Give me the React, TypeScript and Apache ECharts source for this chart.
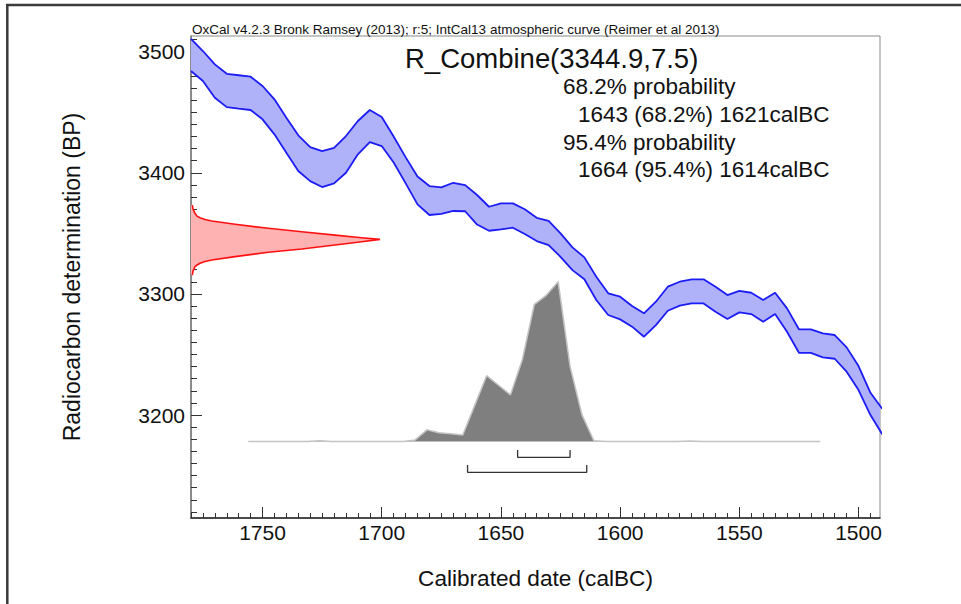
import React, { useEffect, useRef } from "react";
import * as echarts from "echarts";

// Calibration curve (IntCal13), calendar years BC at 5-year steps
const calYears = [
  1780, 1775, 1770, 1765, 1760, 1755, 1750, 1745, 1740, 1735, 1730, 1725, 1720, 1715, 1710,
  1705, 1700, 1695, 1690, 1685, 1680, 1675, 1670, 1665, 1660, 1655, 1650, 1645, 1640, 1635,
  1630, 1625, 1620, 1615, 1610, 1605, 1600, 1595, 1590, 1585, 1580, 1575, 1570, 1565, 1560,
  1555, 1550, 1545, 1540, 1535, 1530, 1525, 1520, 1515, 1510, 1505, 1500, 1495, 1490,
];
const curveUpper = [
  3510.7, 3500.6, 3489.6, 3481.8, 3480.6, 3479.4, 3471.7, 3460.7, 3445.5, 3431.0, 3421.3, 3418.0, 3420.7, 3430.4, 3442.8,
  3451.9, 3446.1, 3430.0, 3413.0, 3397.0, 3389.1, 3388.0, 3391.8, 3389.9, 3381.7, 3372.0, 3374.8, 3374.8, 3369.9, 3362.9,
  3360.4, 3350.0, 3338.5, 3330.2, 3314.2, 3300.5, 3297.7, 3290.0, 3284.0, 3293.6, 3306.0, 3310.1, 3312.1, 3312.1, 3306.0,
  3299.1, 3302.6, 3301.0, 3295.0, 3301.0, 3288.1, 3270.8, 3270.8, 3267.5, 3266.1, 3255.9, 3240.5, 3218.4, 3205.0,
];
const curveLower = [
  3484.1, 3475.8, 3462.0, 3454.3, 3453.0, 3451.9, 3444.2, 3431.8, 3416.6, 3401.5, 3393.2, 3388.3, 3391.3, 3400.1, 3415.3,
  3425.4, 3422.1, 3408.5, 3391.5, 3374.0, 3365.2, 3366.1, 3368.5, 3368.3, 3357.3, 3352.2, 3353.3, 3354.7, 3349.5, 3343.7,
  3340.4, 3330.7, 3319.7, 3312.1, 3295.0, 3282.6, 3279.0, 3273.0, 3264.7, 3274.3, 3286.1, 3290.3, 3292.2, 3292.2, 3285.3,
  3279.3, 3284.8, 3283.4, 3277.0, 3283.4, 3268.8, 3251.4, 3251.4, 3247.6, 3246.5, 3235.8, 3220.6, 3200.0, 3184.0,
];

// Radiocarbon measurement R_Combine(3344.9,7.5): BP vs relative density
const radioBP = [
  3373.4, 3370.0, 3366.6, 3364.2, 3362.9, 3361.4, 3360.2, 3357.5, 3354.2, 3351.4, 3348.6, 3346.4, 3345.1,
  3343.1, 3340.4, 3337.1, 3334.4, 3330.8, 3328.0, 3326.8, 3325.3, 3323.9, 3322.5, 3319.0, 3315.6,
];
const radioDensity = [
  0.007, 0.011, 0.021, 0.032, 0.048, 0.074, 0.11, 0.233, 0.409, 0.586, 0.762, 0.903, 1.0,
  0.903, 0.762, 0.586, 0.409, 0.233, 0.11, 0.074, 0.048, 0.032, 0.021, 0.011, 0.007,
];

// Calibrated (posterior) distribution, calendar years BC vs relative probability
const posteriorYears = [
  1756, 1731, 1726, 1721, 1691, 1686, 1681, 1676, 1671, 1666, 1661, 1656, 1651, 1646,
  1641, 1636, 1631, 1626, 1621, 1616, 1611, 1606, 1576, 1571, 1566, 1516,
];
const posteriorProb = [
  0, 0, 0.004, 0, 0, 0.01, 0.073, 0.055, 0.048, 0.041, 0.226, 0.412, 0.352, 0.292,
  0.513, 0.858, 0.915, 1.0, 0.47, 0.167, 0.005, 0, 0, 0.003, 0, 0,
];

// Highest probability ranges (calBC)
const range68 = [1643, 1621];
const range95 = [1664, 1614];

// Tick values
const xMajorTicks = [1750, 1700, 1650, 1600, 1550, 1500];
const yMajorTicks = [3200, 3300, 3400, 3500];
const xMinorTicks: number[] = [];
for (let v = 1495; v <= 1780; v += 5) xMinorTicks.push(v);
const yMinorTicks: number[] = [];
for (let v = 3120; v <= 3510; v += 10) yMinorTicks.push(v);

const headerText =
  "OxCal v4.2.3 Bronk Ramsey (2013); r:5; IntCal13 atmospheric curve (Reimer et al 2013)";
const sampleName = "R_Combine";
const sampleDate = "(3344.9,7.5)";
const resultLines = [
  "68.2% probability",
  "1643 (68.2%) 1621calBC",
  "95.4% probability",
  "1664 (95.4%) 1614calBC",
];
const resultIndent = [0, 15, 0, 15];

const FONT = "'Liberation Sans', Arial, Helvetica, sans-serif";

export default function App() {
  const ref = useRef<HTMLDivElement>(null);

  useEffect(() => {
    if (!ref.current) return;
    const chart = echarts.init(ref.current, null, { renderer: "svg" });

    const probMin = -0.4787;
    const probMax = 2.5376;
    const densMax = 3.6455;
    const b68 = [-0.0532, -0.0989];
    const b95 = [-0.147, -0.1927];

    const bandData = calYears.map((yr, i) => [yr, curveUpper[i], curveLower[i]]);
    const radioData = radioBP.map((bp, i) => [radioDensity[i], bp]);

    const option: any = {
      animation: false,
      backgroundColor: "#ffffff",
      grid: {
        left: 191,
        top: 36,
        width: 689,
        height: 482,
        show: true,
        borderColor: "#8a8a8a",
        borderWidth: 1,
        backgroundColor: "#ffffff",
      },
      xAxis: [
        {
          type: "value",
          min: 1491,
          max: 1780,
          inverse: true,
          position: "bottom",
          axisLine: { show: true, onZero: false, lineStyle: { color: "#222", width: 1.5 } },
          axisTick: {
            show: true,
            inside: true,
            length: 11,
            customValues: xMajorTicks,
            lineStyle: { color: "#333", width: 1 },
          },
          axisLabel: {
            customValues: xMajorTicks,
            formatter: (v: number) => String(v),
            fontSize: 21,
            fontFamily: FONT,
            color: "#111",
            margin: 4,
          },
          splitLine: { show: false },
        },
        {
          type: "value",
          min: 1491,
          max: 1780,
          inverse: true,
          position: "bottom",
          axisLine: { show: false, onZero: false },
          axisTick: {
            show: true,
            inside: true,
            length: 5,
            customValues: xMinorTicks,
            lineStyle: { color: "#333", width: 1 },
          },
          axisLabel: { show: false },
          splitLine: { show: false },
        },
        {
          type: "value",
          min: 0,
          max: densMax,
          position: "top",
          show: false,
          splitLine: { show: false },
        },
      ],
      yAxis: [
        {
          type: "value",
          min: 3115,
          max: 3513,
          position: "left",
          axisLine: { show: true, onZero: false, lineStyle: { color: "#777", width: 1.5 } },
          axisTick: {
            show: true,
            inside: true,
            length: 11,
            customValues: yMajorTicks,
            lineStyle: { color: "#333", width: 1 },
          },
          axisLabel: {
            customValues: yMajorTicks,
            formatter: (v: number) => String(v),
            fontSize: 21,
            fontFamily: FONT,
            color: "#111",
            margin: 6,
          },
          splitLine: { show: false },
        },
        {
          type: "value",
          min: 3115,
          max: 3513,
          position: "left",
          axisLine: { show: false, onZero: false },
          axisTick: {
            show: true,
            inside: true,
            length: 6,
            customValues: yMinorTicks,
            lineStyle: { color: "#333", width: 1 },
          },
          axisLabel: { show: false },
          splitLine: { show: false },
        },
        {
          type: "value",
          min: probMin,
          max: probMax,
          position: "right",
          show: false,
          splitLine: { show: false },
        },
      ],
      series: [
        {
          type: "custom",
          name: "band",
          xAxisIndex: 0,
          yAxisIndex: 0,
          clip: true,
          data: bandData,
          encode: { x: 0, y: [1, 2] },
          renderItem: (params: any, api: any) => {
            if (params.dataIndex !== 0) return null;
            const top = calYears.map((yr, i) => api.coord([yr, curveUpper[i]]));
            const bottom = calYears.map((yr, i) => api.coord([yr, curveLower[i]])).reverse();
            return {
              type: "polygon",
              shape: { points: top.concat(bottom) },
              style: { fill: "#afb2f9", stroke: "none" },
            };
          },
          z: 2,
        },
        {
          type: "line",
          name: "upper",
          xAxisIndex: 0,
          yAxisIndex: 0,
          data: calYears.map((yr, i) => [yr, curveUpper[i]]),
          showSymbol: false,
          symbol: "none",
          lineStyle: { color: "#1c1cf5", width: 1.8 },
          z: 3,
        },
        {
          type: "line",
          name: "lower",
          xAxisIndex: 0,
          yAxisIndex: 0,
          data: calYears.map((yr, i) => [yr, curveLower[i]]),
          showSymbol: false,
          symbol: "none",
          lineStyle: { color: "#1c1cf5", width: 1.8 },
          z: 3,
        },
        {
          type: "custom",
          name: "radiocarbon",
          xAxisIndex: 2,
          yAxisIndex: 0,
          data: radioData,
          encode: { x: 0, y: 1 },
          renderItem: (params: any, api: any) => {
            if (params.dataIndex !== 0) return null;
            const pts = radioBP.map((bp, i) => api.coord([radioDensity[i], bp]));
            const start = api.coord([0, radioBP[0]]);
            const end = api.coord([0, radioBP[radioBP.length - 1]]);
            return {
              type: "group",
              children: [
                {
                  type: "polygon",
                  shape: { points: [start].concat(pts, [end]) },
                  style: { fill: "#ffb2b2", stroke: "none" },
                },
                {
                  type: "polyline",
                  shape: { points: pts },
                  style: { fill: "none", stroke: "#ff1010", lineWidth: 1.6 },
                },
              ],
            };
          },
          z: 3,
        },
        {
          type: "line",
          name: "posterior",
          xAxisIndex: 0,
          yAxisIndex: 2,
          data: posteriorYears.map((yr, i) => [yr, posteriorProb[i]]),
          showSymbol: false,
          symbol: "none",
          lineStyle: { color: "#c4c4c4", width: 1.5 },
          areaStyle: { color: "#7f7f7f", opacity: 1 },
          z: 3,
        },
        {
          type: "line",
          name: "range68",
          xAxisIndex: 0,
          yAxisIndex: 2,
          data: [
            [range68[0], b68[0]],
            [range68[0], b68[1]],
            [range68[1], b68[1]],
            [range68[1], b68[0]],
          ],
          showSymbol: false,
          symbol: "none",
          lineStyle: { color: "#333", width: 1.3 },
          z: 3,
        },
        {
          type: "line",
          name: "range95",
          xAxisIndex: 0,
          yAxisIndex: 2,
          data: [
            [range95[0], b95[0]],
            [range95[0], b95[1]],
            [range95[1], b95[1]],
            [range95[1], b95[0]],
          ],
          showSymbol: false,
          symbol: "none",
          lineStyle: { color: "#333", width: 1.3 },
          z: 3,
        },
      ],
      graphic: [
        {
          type: "line",
          shape: { x1: 6, y1: 5, x2: 961, y2: 5 },
          style: { stroke: "#3a3a3a", lineWidth: 2.5 },
          z: 10,
        },
        {
          type: "line",
          shape: { x1: 7.3, y1: 4, x2: 7.3, y2: 604 },
          style: { stroke: "#3a3a3a", lineWidth: 2.5 },
          z: 10,
        },
        {
          type: "text",
          x: 192,
          y: 29.5,
          style: {
            text: headerText,
            font: `13.5px ${FONT}`,
            fill: "#111",
            textAlign: "left",
            textVerticalAlign: "middle",
          },
          z: 10,
        },
        {
          type: "text",
          x: 405,
          y: 58,
          style: {
            text: sampleName,
            font: `27.5px ${FONT}`,
            fill: "#111",
            textAlign: "left",
            textVerticalAlign: "middle",
          },
          z: 10,
        },
        {
          type: "text",
          x: 550,
          y: 58,
          style: {
            text: sampleDate,
            font: `27.5px ${FONT}`,
            fill: "#111",
            textAlign: "left",
            textVerticalAlign: "middle",
          },
          z: 10,
        },
        ...resultLines.map((t, i) => ({
          type: "text",
          x: 563 + resultIndent[i],
          y: 86.5 + i * 27.8,
          style: {
            text: t,
            font: `22.5px ${FONT}`,
            fill: "#111",
            textAlign: "left",
            textVerticalAlign: "middle",
          },
          z: 10,
        })),
        {
          type: "text",
          x: 535.5,
          y: 578,
          style: {
            text: "Calibrated date (calBC)",
            font: `22.6px ${FONT}`,
            fill: "#111",
            textAlign: "center",
            textVerticalAlign: "middle",
          },
          z: 10,
        },
        {
          type: "text",
          x: 72,
          y: 277,
          rotation: Math.PI / 2,
          style: {
            text: "Radiocarbon determination (BP)",
            font: `23px ${FONT}`,
            fill: "#111",
            textAlign: "center",
            textVerticalAlign: "middle",
          },
          z: 10,
        },
      ],
    };

    chart.setOption(option);
    return () => {
      chart.dispose();
    };
  }, []);

  return (
    <div
      ref={ref}
      style={{ position: "absolute", left: 0, top: 0, width: 961, height: 604, background: "#fff" }}
    />
  );
}
